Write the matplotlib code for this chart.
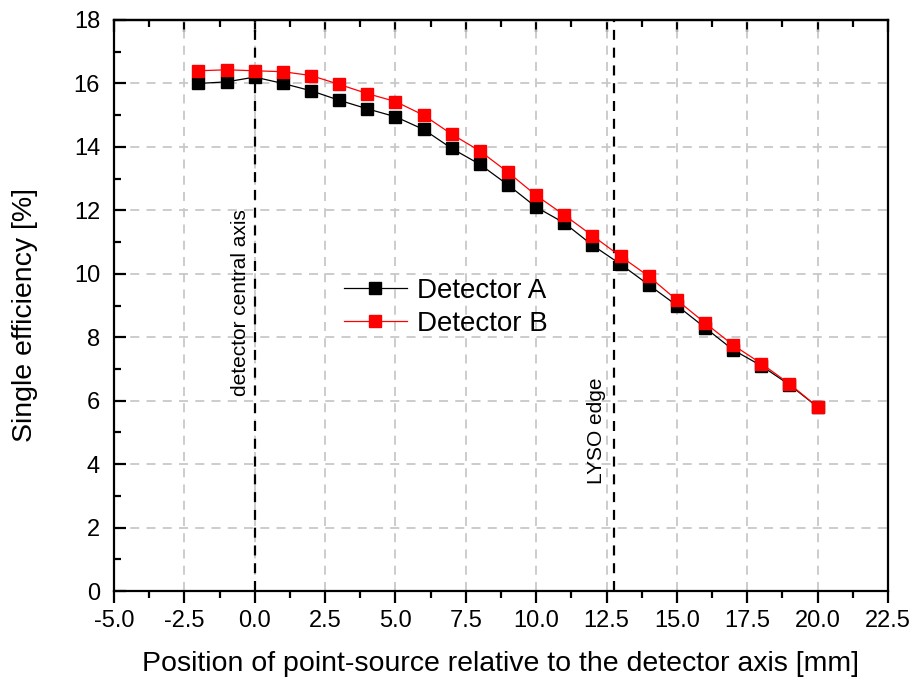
import matplotlib
matplotlib.use("Agg")
import matplotlib.pyplot as plt
from matplotlib.ticker import MultipleLocator, FormatStrFormatter

plt.rcParams['font.family'] = ['Liberation Sans', 'DejaVu Sans']

position = [-2, -1, 0, 1, 2, 3, 4, 5, 6, 7, 8, 9, 10, 11, 12, 13, 14, 15, 16, 17, 18, 19, 20]
detector_a = [16.0, 16.05, 16.2, 16.0, 15.77, 15.47, 15.2, 14.95, 14.55, 13.95, 13.45, 12.8, 12.1,
              11.6, 10.9, 10.3, 9.65, 9.0, 8.3, 7.6, 7.1, 6.5, 5.8]
detector_b = [16.4, 16.43, 16.4, 16.37, 16.25, 15.97, 15.68, 15.43, 15.0, 14.4, 13.87, 13.2, 12.47,
              11.85, 11.2, 10.55, 9.92, 9.17, 8.45, 7.75, 7.17, 6.53, 5.8]
central_axis_x = 0.0
lyso_edge_x = 12.75

fig = plt.figure(figsize=(9.12, 6.81), dpi=100)
ax = fig.add_axes([114/912, 1-591/681, (888-114)/912, (591-20)/681])

ax.plot(position, detector_a, color='black', lw=0.9, marker='s', ms=9,
        mec='black', mfc='black', label='Detector A', zorder=3)
ax.plot(position, detector_b, color='red', lw=0.9, marker='s', ms=9,
        mec='red', mfc='red', label='Detector B', zorder=4)

ax.axvline(central_axis_x, color='black', ls=(0, (4.5, 3.5)), lw=1.6, zorder=2)
ax.axvline(lyso_edge_x, color='black', ls=(0, (4.5, 3.5)), lw=1.6, zorder=2)

ax.text(-0.5, 9.1, 'detector central axis', rotation=90, ha='center', va='center', fontsize=15)
ax.text(12.15, 5.05, 'LYSO edge', rotation=90, ha='center', va='center', fontsize=15)

ax.set_xlim(-5, 22.5)
ax.set_ylim(0, 18)
ax.xaxis.set_major_locator(MultipleLocator(2.5))
ax.xaxis.set_minor_locator(MultipleLocator(1.25))
ax.xaxis.set_major_formatter(FormatStrFormatter('%.1f'))
ax.yaxis.set_major_locator(MultipleLocator(2))
ax.yaxis.set_minor_locator(MultipleLocator(1))

ax.grid(True, which='major', color='#c8c8c8', ls=(0, (5, 4)), lw=1.3, zorder=0)
ax.set_axisbelow(True)

ax.tick_params(axis='x', which='both', direction='out', bottom=True, top=False, labelsize=17, pad=5)
ax.tick_params(axis='x', which='major', length=8.5, width=1.6)
ax.tick_params(axis='x', which='minor', length=5, width=1.6)
ax.tick_params(axis='y', which='both', direction='in', left=True, right=False, labelsize=17, pad=10)
ax.tick_params(axis='y', which='major', length=8.5, width=1.6)
ax.tick_params(axis='y', which='minor', length=5, width=1.6)

# top inward ticks via secondary axis
secx = ax.secondary_xaxis('top')
secx.xaxis.set_major_locator(MultipleLocator(2.5))
secx.xaxis.set_minor_locator(MultipleLocator(1.25))
secx.tick_params(which='both', direction='in', labeltop=False, width=1.6)
secx.tick_params(which='major', length=8.5)
secx.tick_params(which='minor', length=5)
secx.spines['top'].set_linewidth(1.6)

for s in ax.spines.values():
    s.set_linewidth(1.6)

ax.set_xlabel('Position of point-source relative to the detector axis [mm]', fontsize=20.5, labelpad=14)
ax.set_ylabel('Single efficiency [%]', fontsize=20.5)
ax.yaxis.set_label_coords(-0.098, 0.483)

leg = ax.legend(loc='center left', bbox_to_anchor=(0.297, 0.4965), fontsize=20, frameon=False,
                handlelength=2.27, handletextpad=0.36, labelspacing=0.25, borderaxespad=0,
                borderpad=0, markerscale=0.9)

fig.savefig('out.png', dpi=100)
